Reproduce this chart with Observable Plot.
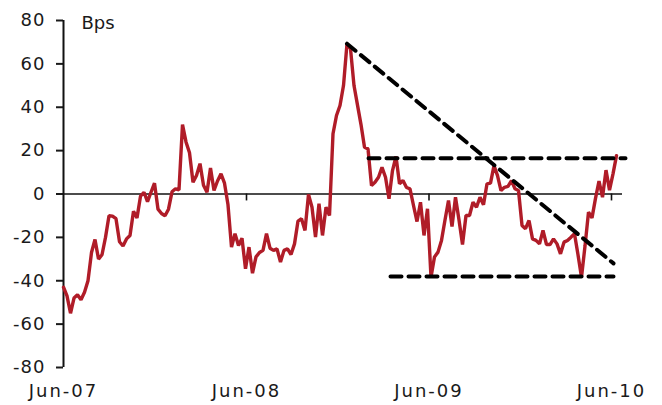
<!DOCTYPE html>
<html><head><meta charset="utf-8">
<script src="https://cdn.jsdelivr.net/npm/d3@7"></script>
<script src="https://cdn.jsdelivr.net/npm/@observablehq/plot@0.6"></script>
<style>
html,body{margin:0;padding:0;background:#fff;}
#chart svg{display:block;}
g[aria-label="x-axis tick label"] text{letter-spacing:2px;}
g[aria-label="y-axis tick label"] text{letter-spacing:1px;}
</style></head><body><div id="chart"></div>
<script>
// Weekly spread series (bps), first observation week of Jun 2007
const seriesStart = "2007-06-01";
const spreadBps = [
  -43, -47, -55, -48, -46.5, -48.8, -45.3, -40, -27, -21,
  -30, -28, -20, -10, -10.2, -11.4, -22, -24, -20.7, -19.1,
  -8, -11, -1, 0.8, -3.5, 0.8, 5, -7, -9, -10,
  -7, 1, 2.4, 1.9, 32, 24, 19, 5.4, 8.5, 14,
  4, 0.8, 12, 1.6, 6, 9.3, 5, -5, -24.5, -18.3,
  -23.7, -20.4, -34.5, -24.5, -36.5, -29, -27, -26, -18.3, -25,
  -26, -25.3, -31.4, -26, -25.3, -27.9, -23, -12.5, -11.4, -16.8,
  -0.2, -6.1, -19.9, -4.5, -19.1, -6.1, -9.9, 27.8, 36.2, 40.8,
  50, 69.3, 67, 50, 41, 32, 21.6, 20.8, 3.9, 5.4,
  7.7, 12.3, 7.7, -2.2, 10.8, 17.3, 4.7, 6.2, 3, 2.4,
  -5.3, -12.7, -3.8, -19.1, -6.8, -38.4, -29, -26.8, -21.4, -12,
  -3, -15, -1.5, -12, -23.3, -9.9, -9.9, -3.8, -6.1, -1.5,
  -5, 4.7, 5, 13.1, 8.5, 1.6, 3.1, 3.5, 6.2, 2.4,
  1.6, -14.5, -16, -12.2, -20.7, -21.4, -23, -16.8, -23.3, -23.3,
  -20.7, -23, -27.6, -22.2, -21.4, -19.9, -18.3, -28, -38.4, -24,
  -8.4, -11, -2, 6, -1.5, 11, 1.8, 9.3, 17.7
];

// Dashed guide lines
const trendDates = ["2008-12-19", "2010-06-05"];
const trendBps = [69.3, -32];
const resistDates = ["2009-01-31", "2010-06-29"];
const resistBps = [16.5, 16.5];
const supportDates = ["2009-03-16", "2010-06-05"];
const supportBps = [-38, -38];

// Axes
const xTickDates = ["2007-06-01", "2008-06-01", "2009-06-01", "2010-06-01"];
const xDomainDates = ["2007-06-01", "2010-06-23"];
const yTicks = [-80, -60, -40, -20, 0, 20, 40, 60, 80];
const yUnitLabel = "Bps";

const parse = s => new Date(s + "T00:00:00Z");
const start = parse(seriesStart);
const series = spreadBps.map((v, i) => ({date: d3.utcDay.offset(start, 7 * i), bps: v}));
const seg = (ds, vs) => ds.map((d, i) => ({date: parse(d), bps: vs[i]}));
const xTicks = xTickDates.map(parse);

const chart = Plot.plot({
  width: 662, height: 405,
  marginLeft: 63, marginRight: 40, marginTop: 20, marginBottom: 38,
  style: {fontFamily: "'DejaVu Sans', Verdana, sans-serif", fontSize: "18px", color: "#1a1a1a", background: "#fff", overflow: "visible"},
  x: {type: "utc", domain: xDomainDates.map(parse)},
  y: {domain: [-80, 80]},
  marks: [
    Plot.axisY({ticks: yTicks, tickSize: 7, tickPadding: 11, tickFormat: d => String(d), label: null, strokeWidth: 2, fontSize: 18}),
    Plot.axisX({ticks: xTicks, tickSize: 0, tickPadding: 17, tickFormat: d3.utcFormat("%b-%y"), label: null, fontSize: 18}),
    Plot.ruleY([0], {stroke: "#111", strokeWidth: 1.6}),
    Plot.ruleX([xTicks[0]], {y1: -80, y2: 80, stroke: "#111", strokeWidth: 2}),
    Plot.ruleX(xTicks.slice(1), {y1: 0, y2: -3.2, stroke: "#111", strokeWidth: 1.6}),
    Plot.line(series, {x: "date", y: "bps", stroke: "#b01c28", strokeWidth: 3.4, strokeLinejoin: "miter"}),
    Plot.line(seg(trendDates, trendBps), {x: "date", y: "bps", stroke: "#000", strokeWidth: 4, strokeDasharray: "11,7"}),
    Plot.line(seg(resistDates, resistBps), {x: "date", y: "bps", stroke: "#000", strokeWidth: 4, strokeDasharray: "11,7"}),
    Plot.line(seg(supportDates, supportBps), {x: "date", y: "bps", stroke: "#000", strokeWidth: 4, strokeDasharray: "11,7"}),
    Plot.text([yUnitLabel], {frameAnchor: "top-left", dx: 18, dy: 3, textAnchor: "start", lineAnchor: "middle", fontSize: 18, fill: "#1a1a1a"})
  ]
});
document.getElementById("chart").appendChild(chart);
</script></body></html>
